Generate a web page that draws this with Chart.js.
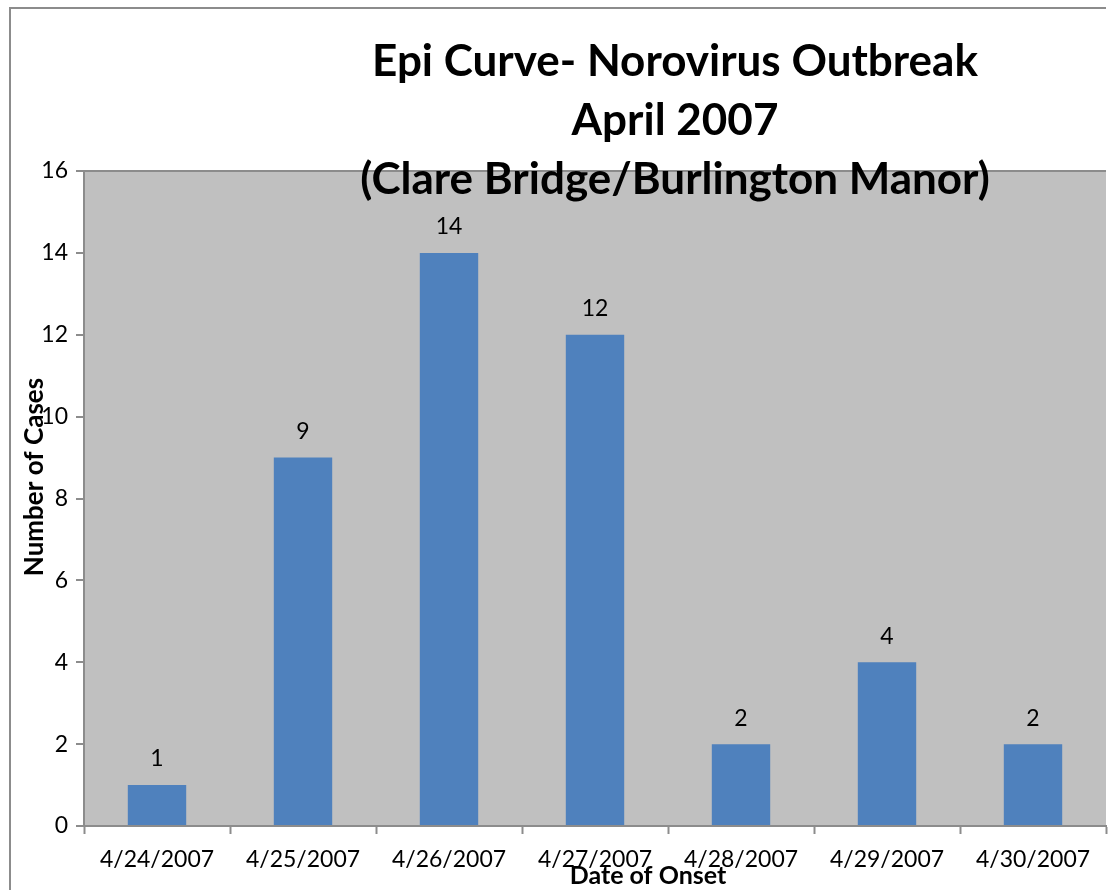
<!DOCTYPE html>
<html>
<head>
<meta charset="utf-8">
<script src="https://cdn.jsdelivr.net/npm/chart.js@4"></script>
<style>
  html, body { margin: 0; padding: 0; background: #fff; }
  canvas { display: block; }
</style>
</head>
<body>
<canvas id="epiChart" width="1108" height="890"></canvas>
<script>
const onsetDates = ['4/24/2007', '4/25/2007', '4/26/2007', '4/27/2007', '4/28/2007', '4/29/2007', '4/30/2007'];
const caseCounts = [1, 9, 14, 12, 2, 4, 2];
const titleLines = ['Epi Curve- Norovirus Outbreak', 'April 2007', '(Clare Bridge/Burlington Manor)'];
const yTitle = 'Number of Cases';
const xTitle = 'Date of Onset';

const FONT = 'Lato, "Open Sans", sans-serif';

// grey plot background + outer frame
const backdrop = {
    id: 'backdrop',
    beforeDraw(chart) {
        const { ctx, chartArea: a } = chart;
        ctx.save();
        ctx.fillStyle = '#c0c0c0';
        ctx.fillRect(a.left, a.top, a.right - a.left, a.bottom - a.top);
        ctx.strokeStyle = '#8c8c8c';
        ctx.lineWidth = 2;
        ctx.beginPath();
        ctx.moveTo(10, chart.height);
        ctx.lineTo(10, 8);
        ctx.lineTo(chart.width - 2, 8);
        ctx.stroke();
        ctx.restore();
    }
};

// value labels, title and axis titles (they overlap the plot like the original)
const overlays = {
    id: 'overlays',
    afterDraw(chart) {
        const { ctx } = chart;
        ctx.save();
        ctx.fillStyle = '#000';
        ctx.textAlign = 'center';
        ctx.textBaseline = 'middle';

        ctx.font = '23px ' + FONT;
        chart.getDatasetMeta(0).data.forEach((bar, i) => {
            ctx.fillText(String(caseCounts[i]), bar.x, bar.y - 26);
        });

        ctx.font = 'bold 44px ' + FONT;
        titleLines.forEach((line, i) => {
            ctx.fillText(line, 675, 62 + i * 59);
        });

        ctx.font = 'bold 25px ' + FONT;
        ctx.fillText(xTitle, 648, 876);

        ctx.font = 'bold 26px ' + FONT;
        ctx.translate(35, 477);
        ctx.rotate(-Math.PI / 2);
        ctx.fillText(yTitle, 0, 0);
        ctx.restore();
    }
};

new Chart(document.getElementById('epiChart'), {
    type: 'bar',
    data: {
        labels: onsetDates,
        datasets: [{
            data: caseCounts,
            backgroundColor: '#4f81bd',
            borderWidth: 0,
            categoryPercentage: 1,
            barPercentage: 0.4
        }]
    },
    options: {
        responsive: false,
        animation: false,
        layout: { padding: { top: 171, right: 2, left: 0, bottom: 0 } },
        plugins: {
            legend: { display: false },
            title: { display: false },
            tooltip: { enabled: false }
        },
        scales: {
            x: {
                afterFit: s => { s.height = 64; },
                grid: {
                    offset: true,
                    drawOnChartArea: false,
                    tickLength: 8,
                    tickColor: '#8c8c8c',
                    tickWidth: 2
                },
                border: { display: true, color: '#8c8c8c', width: 2 },
                ticks: {
                    color: '#000',
                    padding: 12,
                    maxRotation: 0,
                    autoSkip: false,
                    font: { family: FONT, size: 23 }
                }
            },
            y: {
                min: 0,
                max: 16,
                afterFit: s => { s.width = 84; },
                grid: {
                    color: c => (c.tick && c.tick.value === 16 ? '#8c8c8c' : 'rgba(0,0,0,0)'),
                    lineWidth: 2,
                    tickLength: 8,
                    tickColor: '#8c8c8c',
                    tickWidth: 2
                },
                border: { display: true, color: '#8c8c8c', width: 2 },
                ticks: {
                    stepSize: 2,
                    color: '#000',
                    padding: 8,
                    font: { family: FONT, size: 23 }
                }
            }
        }
    },
    plugins: [backdrop, overlays]
});
</script>
</body>
</html>
